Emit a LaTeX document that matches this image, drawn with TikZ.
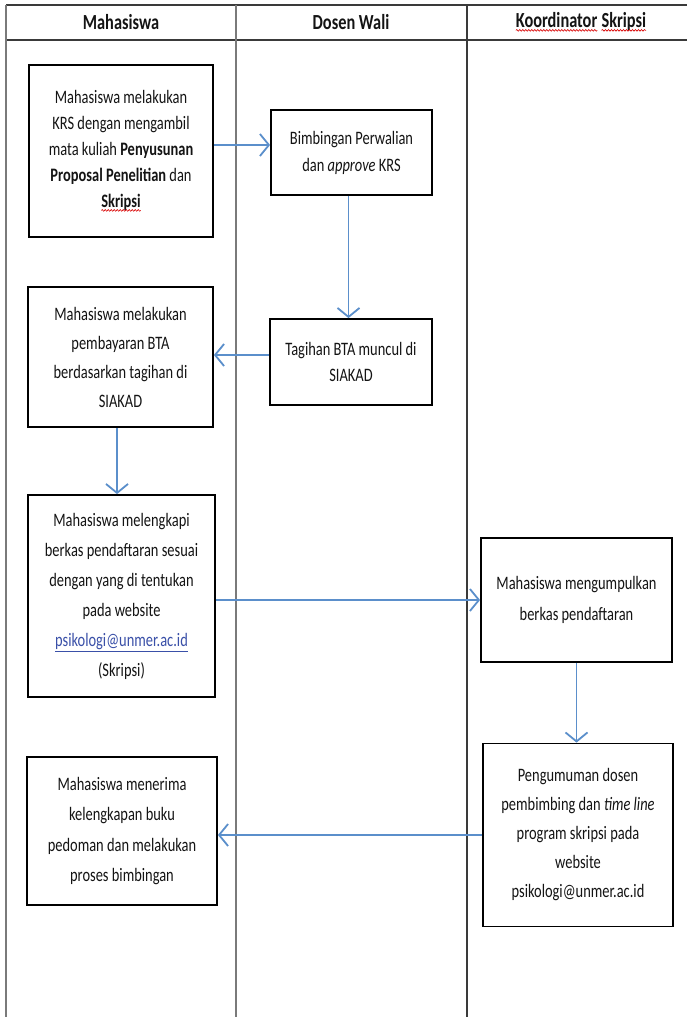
\documentclass[tikz,border=0pt]{standalone}
\usepackage{fontspec}
\setmainfont{Carlito}[FakeStretch=0.76]
\usetikzlibrary{arrows.meta,decorations.pathmorphing}
\definecolor{flowblue}{HTML}{5B8FCB}
\definecolor{linkblue}{HTML}{3A50A8}
\definecolor{txt}{HTML}{141414}
\definecolor{lanegray}{HTML}{7A7A7A}
\definecolor{lanedark}{HTML}{3A3A3A}
\newcommand\redwave[1]{\tikz[baseline=(w.base),x=1pt,y=1pt]{%
  \node[draw=none,fill=none,inner sep=0pt,outer sep=0pt,minimum size=0pt] (w) {#1};
  \draw[red!85!black, line width=0.6pt, decorate, decoration={snake, amplitude=0.9pt, segment length=3pt}]
    ([yshift=-2.8pt]w.base west) -- ([yshift=-2.8pt]w.base east);}}
\newcommand\maillink[1]{\textcolor{linkblue}{\underline{#1}}}
\begin{document}
\begin{tikzpicture}[x=1pt,y=-1pt,
  box/.style={draw=black, line width=1.8pt, align=center, inner sep=0pt, text=txt, font=\fontsize{19}{29}\selectfont},
  flow/.style={draw=flowblue, line width=1.8pt, -{Straight Barb[length=9pt,width=22pt]}},
  lane/.style={draw=lanegray, line width=1.3pt},
  lanedk/.style={draw=lanedark, line width=1.3pt},
  head/.style={font=\bfseries\fontsize{21.5}{24}\selectfont, text=txt, inner sep=0pt}]
\useasboundingbox (0,0) rectangle (687,1017);
\fill[white] (0,0) rectangle (687,1017);
% swimlane frame
\draw[lanedk] (6,5) -- (687,5);
\draw[lanedk] (6,40) -- (687,40);
\draw[lane] (6,5) -- (6,1017);
\draw[lane] (236,5) -- (236,1017);
\draw[lanedk] (467,5) -- (467,1017);
% headers
\node[head] (h1) at (121,22) {Mahasiswa};
\node[head] (h2) at (351,22) {Dosen Wali};
\node[head] (h3) at (581,22) {\redwave{Koordinator} \redwave{Skripsi}};
% boxes
\node[box, minimum width=184pt, minimum height=172pt, font=\fontsize{19}{26}\selectfont] (b1) at (121,151)
  {Mahasiswa melakukan\\ KRS dengan mengambil\\ mata kuliah \textbf{Penyusunan}\\ \textbf{Proposal Penelitian} dan\\ \textbf{\redwave{Skripsi}}};
\node[box, minimum width=161pt, minimum height=85pt, font=\fontsize{19}{27}\selectfont] (b2) at (351.5,152.5)
  {Bimbingan Perwalian\\ dan \textit{approve} KRS};
\node[box, minimum width=185pt, minimum height=140pt] (b3) at (120.5,357)
  {Mahasiswa melakukan\\ pembayaran BTA\\ berdasarkan tagihan di\\ SIAKAD};
\node[box, minimum width=162pt, minimum height=86pt, font=\fontsize{19}{26}\selectfont] (b4) at (351,362)
  {Tagihan BTA muncul di\\ SIAKAD};
\node[box, minimum width=187pt, minimum height=202pt, font=\fontsize{19}{30}\selectfont] (b5) at (121.5,596)
  {Mahasiswa melengkapi\\ berkas pendaftaran sesuai\\ dengan yang di tentukan\\ pada website\\ \maillink{psikologi@unmer.ac.id}\\ (Skripsi)};
\node[box, minimum width=191pt, minimum height=124pt, font=\fontsize{19}{31}\selectfont] (b6) at (576.5,600)
  {Mahasiswa mengumpulkan\\ berkas pendaftaran};
\node[box, minimum width=190pt, minimum height=183pt] (b7) at (578,835)
  {Pengumuman dosen\\ pembimbing dan \textit{time line}\\ program skripsi pada\\ website\\ psikologi@unmer.ac.id};
\node[box, minimum width=190pt, minimum height=148pt, font=\fontsize{19}{30.5}\selectfont] (b8) at (122,831)
  {Mahasiswa menerima\\ kelengkapan buku\\ pedoman dan melakukan\\ proses bimbingan};
% connectors
\draw[flow] ([yshift=6pt]b1.east) -- ([yshift=6pt]b1.east -| b2.west);
\draw[flow] ([xshift=-3pt]b2.south) -- ([xshift=-3pt]b2.south |- b4.north);
\draw[flow] ([yshift=7pt]b4.west) -- ([yshift=7pt]b4.west -| b3.east);
\draw[flow] ([xshift=-3.5pt]b3.south) -- ([xshift=-3.5pt]b3.south |- b5.north);
\draw[flow] (b6.west -| b5.east) -- (b6.west);
\draw[flow] (b6.south) -- (b6.south |- b7.north);
\draw[flow] (b7.west) -- (b7.west -| b8.east);
\end{tikzpicture}
\end{document}
